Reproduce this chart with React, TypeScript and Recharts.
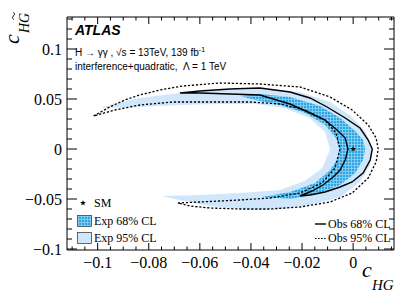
import React from 'react';
import { ComposedChart, Area, Line, Scatter, XAxis, YAxis } from 'recharts';

const xDomain = [-0.112, 0.016];
const yDomain = [-0.101, 0.132];
const xMajorTicks = [-0.1, -0.08, -0.06, -0.04, -0.02, 0];
const xAllTicks = [-0.11, -0.105, -0.1, -0.095, -0.09, -0.085, -0.08, -0.075, -0.07, -0.065, -0.06, -0.055, -0.05, -0.045, -0.04, -0.035, -0.03, -0.025, -0.02, -0.015, -0.01, -0.005, 0, 0.005, 0.01, 0.015];
const yMajorTicks = [-0.1, -0.05, 0, 0.05, 0.1];
const yAllTicks = [-0.1, -0.09, -0.08, -0.07, -0.06, -0.05, -0.04, -0.03, -0.02, -0.01, 0, 0.01, 0.02, 0.03, 0.04, 0.05, 0.06, 0.07, 0.08, 0.09, 0.1, 0.11, 0.12, 0.13];

// Expected 95% CL contour (closed loop)
const exp95Contour: [number, number][] = [
  [-0.099, 0.041], [-0.091, 0.047], [-0.0835, 0.051], [-0.068, 0.056], [-0.052, 0.059], [-0.0365, 0.06],
  [-0.021, 0.057], [-0.009, 0.047], [-0.0004, 0.032], [0.005, 0.017], [0.0075, 0], [0.0067, -0.016],
  [0.0027, -0.033], [-0.005, -0.048], [-0.017, -0.056], [-0.0286, -0.06], [-0.04, -0.061], [-0.056, -0.057],
  [-0.068, -0.051], [-0.075, -0.047], [-0.06, -0.046], [-0.044, -0.044], [-0.0286, -0.041], [-0.019, -0.032],
  [-0.012, -0.019], [-0.009, 0], [-0.011, 0.017], [-0.017, 0.031], [-0.027, 0.041], [-0.038, 0.045],
  [-0.052, 0.045], [-0.068, 0.044], [-0.0835, 0.042], [-0.099, 0.041],
];

// Expected 68% CL contour
const exp68Contour: [number, number][] = [
  [-0.0443, 0.053], [-0.0365, 0.055], [-0.0247, 0.052], [-0.0129, 0.043], [-0.0051, 0.031], [0.0008, 0.018],
  [0.0039, 0.009], [0.0047, 0], [0.0039, -0.011], [0.0008, -0.024], [-0.0051, -0.036], [-0.0129, -0.044],
  [-0.0247, -0.05], [-0.0357, -0.048], [-0.0247, -0.043], [-0.0149, -0.034], [-0.009, -0.021], [-0.0059, -0.009],
  [-0.0055, 0], [-0.0067, 0.011], [-0.011, 0.024], [-0.0188, 0.036], [-0.0286, 0.044], [-0.0384, 0.049],
  [-0.0443, 0.053],
];

// Observed 68% CL contour
const obs68Contour: [number, number][] = [
  [-0.0678, 0.056], [-0.06, 0.058], [-0.0482, 0.06], [-0.0365, 0.061], [-0.0247, 0.057], [-0.0169, 0.051],
  [-0.0102, 0.042], [-0.0031, 0.031], [0.0027, 0.021], [0.0059, 0.009], [0.0075, 0], [0.0067, -0.011],
  [0.0039, -0.024], [-0.0004, -0.033], [-0.0051, -0.038], [-0.011, -0.043], [-0.0169, -0.046], [-0.0208, -0.047],
  [-0.0161, -0.042], [-0.0118, -0.036], [-0.0078, -0.028], [-0.0051, -0.021], [-0.0031, -0.011], [-0.002, 0],
  [-0.0031, 0.011], [-0.0063, 0.019], [-0.011, 0.029], [-0.0169, 0.036], [-0.0247, 0.045], [-0.0365, 0.054],
  [-0.0482, 0.055], [-0.06, 0.056], [-0.0678, 0.056],
];

// Observed 95% CL contour
const obs95Contour: [number, number][] = [
  [-0.1016, 0.033], [-0.0953, 0.042], [-0.0894, 0.049], [-0.0835, 0.054], [-0.0757, 0.059], [-0.0667, 0.063],
  [-0.0522, 0.066], [-0.0365, 0.065], [-0.0208, 0.062], [-0.009, 0.052], [-0.0004, 0.039], [0.0059, 0.024],
  [0.009, 0.011], [0.0098, 0], [0.009, -0.013], [0.0059, -0.029], [-0.0004, -0.044], [-0.009, -0.053],
  [-0.0208, -0.058], [-0.0325, -0.06], [-0.0443, -0.06], [-0.0561, -0.059], [-0.0639, -0.057], [-0.0686, -0.054],
  [-0.06, -0.053], [-0.0443, -0.051], [-0.0325, -0.049], [-0.0208, -0.044], [-0.0122, -0.034], [-0.0071, -0.019],
  [-0.0051, 0], [-0.0067, 0.016], [-0.011, 0.029], [-0.0188, 0.039], [-0.0286, 0.045], [-0.0404, 0.047],
  [-0.0561, 0.047], [-0.0706, 0.047], [-0.0835, 0.044], [-0.0933, 0.039], [-0.1016, 0.033],
];

const smPoint = [{ x: 0, y: 0 }];

const toPts = (c: [number, number][]) => c.map(([x, y]) => ({ x, y }));

const SERIF = '"Liberation Serif", "Times New Roman", serif';
const SANS = '"Liberation Sans", Arial, Helvetica, sans-serif';
const LIGHT = '#cfe6fb';

const fmt = (v: number) => (v === 0 ? '0' : (v < 0 ? '\u2212' : '') + String(Math.abs(v)));
const isIn = (arr: number[], v: number) => arr.some((m) => Math.abs(m - v) < 1e-9);

const starPath = (cx: number, cy: number, r: number) => {
  let d = '';
  for (let i = 0; i < 10; i++) {
    const a = -Math.PI / 2 + (i * Math.PI) / 5;
    const rr = i % 2 === 0 ? r : r * 0.42;
    d += (i ? 'L' : 'M') + (cx + rr * Math.cos(a)).toFixed(2) + ' ' + (cy + rr * Math.sin(a)).toFixed(2);
  }
  return d + 'Z';
};

const labelStyle = { fontFamily: SERIF, fontSize: 16, fill: '#000' };

type Side = 'bottom' | 'top' | 'left' | 'right';
const makeTick = (side: Side, majors: number[], majorLen: number, minorLen: number, label: boolean) => (props: any) => {
  const { x, y, payload } = props;
  const v = payload.value;
  const major = isIn(majors, v);
  const len = major ? majorLen : minorLen;
  let x2 = x, y2 = y;
  if (side === 'bottom') y2 = y - len;
  if (side === 'top') y2 = y + len;
  if (side === 'left') x2 = x + len;
  if (side === 'right') x2 = x - len;
  return (
    <g>
      <line x1={x} y1={y} x2={x2} y2={y2} stroke="#000" strokeWidth={1} />
      {label && major && side === 'bottom' && (
        <text x={x} y={y + 18} textAnchor="middle" style={labelStyle}>{fmt(v)}</text>
      )}
      {label && major && side === 'left' && (
        <text x={x - 5} y={y + 5.5} textAnchor="end" style={labelStyle}>{fmt(v)}</text>
      )}
    </g>
  );
};

const axisLine = { stroke: '#000', strokeWidth: 1 };

export default function App() {
  return (
    <div style={{ position: 'absolute', left: 0, top: 0, width: 415, height: 300, background: '#fff' }}>
      <svg width={0} height={0} style={{ position: 'absolute' }}>
        <defs>
          <pattern id="hatchPat" width="3" height="3" patternUnits="userSpaceOnUse">
            <rect width="3" height="3" fill="#2ba5e4" />
            <path d="M0 0.5H3M0.5 0V3" stroke="#8fd2f4" strokeWidth="0.8" />
          </pattern>
        </defs>
      </svg>
      <div style={{ position: 'absolute', left: 0, top: 0 }}>
        <ComposedChart width={415} height={300} margin={{ top: 16, right: 20, bottom: 49, left: 66 }}>
          <XAxis xAxisId="main" dataKey="x" type="number" domain={xDomain} allowDataOverflow ticks={xAllTicks}
            height={1} tickSize={0} tickMargin={0} tickLine={false} axisLine={axisLine} interval={0}
            tick={makeTick('bottom', xMajorTicks, 7, 3.5, true)} />
          <XAxis xAxisId="top" orientation="top" dataKey="x" type="number" domain={xDomain} allowDataOverflow ticks={xAllTicks}
            height={1} tickSize={0} tickMargin={0} tickLine={false} axisLine={axisLine} interval={0}
            tick={makeTick('top', xMajorTicks, 7, 3.5, false)} />
          <YAxis yAxisId="main" type="number" domain={yDomain} allowDataOverflow ticks={yAllTicks}
            width={1} tickSize={0} tickMargin={0} tickLine={false} axisLine={axisLine} interval={0}
            tick={makeTick('left', yMajorTicks, 10, 5, true)} />
          <YAxis yAxisId="right" orientation="right" type="number" domain={yDomain} allowDataOverflow ticks={yAllTicks}
            width={1} tickSize={0} tickMargin={0} tickLine={false} axisLine={axisLine} interval={0}
            tick={makeTick('right', yMajorTicks, 10, 5, false)} />

          <Area xAxisId="main" yAxisId="main" data={toPts(exp95Contour)} dataKey="y" type="linear"
            fill={LIGHT} fillOpacity={1} stroke="none" isAnimationActive={false} />
          <Area xAxisId="main" yAxisId="main" data={toPts(exp68Contour)} dataKey="y" type="linear"
            fill="url(#hatchPat)" fillOpacity={1} stroke="none" isAnimationActive={false} />
          <Line xAxisId="main" yAxisId="main" data={toPts(obs95Contour)} dataKey="y" type="linear"
            stroke="#000" strokeWidth={1.3} strokeDasharray="2.2 1.8" dot={false} isAnimationActive={false} />
          <Line xAxisId="main" yAxisId="main" data={toPts(obs68Contour)} dataKey="y" type="linear"
            stroke="#000" strokeWidth={1.4} dot={false} isAnimationActive={false} />
          <Scatter xAxisId="main" yAxisId="main" data={smPoint} dataKey="y" isAnimationActive={false}
            shape={(p: any) => <path d={starPath(p.cx, p.cy, 3)} fill="#000" />} />
        </ComposedChart>
      </div>
      <svg width={415} height={300} style={{ position: 'absolute', left: 0, top: 0, pointerEvents: 'none' }}>
        <text x={75} y={35} fontFamily={SANS} fontWeight="bold" fontStyle="italic" fontSize={14} fill="#000">ATLAS</text>
        <text x={75} y={56} fontFamily={SANS} fontSize={10} fill="#000">
          H → γγ , √s = 13TeV, 139 fb<tspan dy={-4} fontSize={7}>-1</tspan>
        </text>
        <text x={75} y={70} fontFamily={SANS} fontSize={10} fill="#000" style={{ whiteSpace: 'pre' }}>
          {'interference+quadratic,  Λ = 1 TeV'}
        </text>

        <path d={starPath(83, 203, 3)} fill="#000" />
        <text x={94} y={207} fontFamily={SERIF} fontSize={12} fill="#000">SM</text>
        <rect x={77.5} y={215.5} width={14} height={11} fill="url(#hatchPat)" stroke="#444" strokeWidth={0.8} />
        <text x={94} y={225} fontFamily={SERIF} fontSize={12} fill="#000">Exp 68% CL</text>
        <rect x={77.5} y={232.5} width={14} height={11} fill={LIGHT} stroke="#444" strokeWidth={0.8} />
        <text x={94} y={242} fontFamily={SERIF} fontSize={12} fill="#000">Exp 95% CL</text>

        <line x1={315} x2={326} y1={224} y2={224} stroke="#000" strokeWidth={1.4} />
        <text x={328} y={228} fontFamily={SERIF} fontSize={12} fill="#000">Obs 68% CL</text>
        <line x1={315} x2={326} y1={238.5} y2={238.5} stroke="#000" strokeWidth={1.2} strokeDasharray="1.6 1.4" />
        <text x={328} y={242} fontFamily={SERIF} fontSize={12} fill="#000">Obs 95% CL</text>

        <text x={362} y={277} fontFamily={SERIF} fontStyle="italic" fontSize={22} fill="#000">c</text>
        <text x={372} y={290} fontFamily={SERIF} fontStyle="italic" fontSize={15} fill="#000">HG</text>

        <g transform="translate(19,44) rotate(-90)">
          <text x={0} y={0} fontFamily={SERIF} fontStyle="italic" fontSize={22} fill="#000">c</text>
          <text x={11} y={10} fontFamily={SERIF} fontStyle="italic" fontSize={14} fill="#000">HG</text>
          <path d="M24.5 -5.5 q1.8 -2.2 3.6 0 t3.6 0" fill="none" stroke="#000" strokeWidth={0.9} />
        </g>
      </svg>
    </div>
  );
}
